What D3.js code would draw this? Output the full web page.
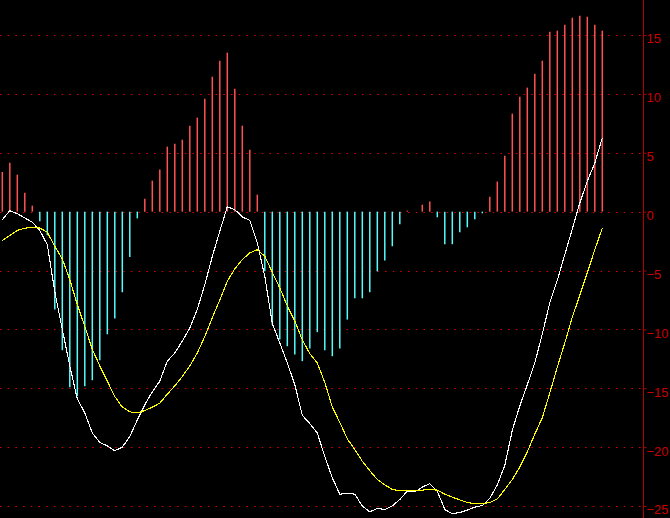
<!DOCTYPE html>
<html><head><meta charset="utf-8">
<script src="https://cdn.jsdelivr.net/npm/d3@7"></script>
<style>html,body{margin:0;padding:0;background:#000;overflow:hidden}</style>
</head><body>
<svg id="c" width="670" height="518"></svg>
<script>
// MACD histogram (2*(DIF-DEA)) per period
const histValues = [3.37, 4.16, 3.14, 1.61, 0.51, -0.82, -2.0, -8.32, -11.77, -14.92,
  -15.68, -14.83, -14.32, -12.62, -10.42, -9.08, -6.85, -3.85, -0.57, 1.1,
  2.63, 3.57, 5.52, 5.77, 6.11, 7.30, 7.98, 9.59, 11.46, 12.82,
  13.5, 10.44, 7.30, 5.26, 1.44, -5.07, -9.59, -10.87, -11.43, -12.14,
  -12.7, -11.63, -10.24, -11.77, -12.28, -11.63, -9.17, -7.36, -7.36, -6.85,
  -5.07, -4.16, -2.94, -1.08, 0.08, 0, 0.59, 0.85, -0.48, -2.77,
  -2.77, -1.75, -1.33, -0.65, -0.14, 1.27, 2.55, 4.75, 8.32, 9.76,
  10.53, 11.71, 12.82, 15.28, 15.37, 15.87, 16.47, 16.64, 16.55, 15.87, 15.37];
// DIF (white line)
const difValues = [-0.68, 0.08, -0.17, -0.54, -0.9, -1.6, -2.8, -6.8, -10.0, -13.1,
  -15.9, -17.1, -18.8, -19.6, -19.9, -20.3, -20.0, -19.1, -17.7, -16.4,
  -15.3, -14.4, -12.7, -12.0, -11.0, -9.9, -8.3, -6.2, -3.8, -1.67,
  0.42, 0.17, -0.45, -0.74, -2.66, -5.5, -9.5, -11.15, -12.85, -14.7,
  -17.3, -18.0, -18.8, -20.8, -22.6, -24.0, -23.9, -24.0, -25.0, -25.5,
  -25.2, -25.3, -25.0, -24.45, -23.74, -23.8, -23.4, -23.1, -23.74, -25.3,
  -25.66, -25.55, -25.35, -25.1, -24.96, -24.36, -23.2, -21.56, -18.56, -16.5,
  -14.7, -12.85, -10.4, -7.73, -5.83, -3.65, -1.47, 0.74, 2.57, 4.13, 6.26];
// DEA (yellow line)
const deaValues = [-2.46, -2.04, -1.59, -1.41, -1.33, -1.39, -1.75, -2.94, -4.02, -5.77,
  -7.9, -9.74, -11.7, -13.1, -14.4, -15.7, -16.6, -17.0, -17.1, -16.9,
  -16.6, -16.27, -15.5, -14.8, -14.0, -13.1, -12.0, -10.6, -9.0, -7.5,
  -5.9, -4.87, -4.07, -3.5, -3.23, -3.79, -5.15, -6.48, -8.0, -9.3,
  -10.9, -12.05, -12.85, -14.5, -16.6, -17.9, -19.3, -20.2, -21.2, -22.0,
  -22.75, -23.2, -23.6, -23.7, -23.7, -23.7, -23.65, -23.6, -23.65, -24.0,
  -24.25, -24.48, -24.7, -24.8, -24.8, -24.7, -24.4, -23.6, -22.75, -21.7,
  -20.4, -18.9, -17.5, -15.4, -13.2, -11.15, -8.97, -7.1, -5.2, -3.23, -1.4];
const yTicks = [15, 10, 5, 0, -5, -10, -15, -20, -25];
const periods = histValues.map((d, i) => i);

const W = 670, H = 518;
const svg = d3.select('#c');
svg.append('rect').attr('width', W).attr('height', H).attr('fill', '#000');

const x = d3.scaleLinear().domain([0, periods.length - 1]).range([2.3, 602.3]);
const y = d3.scaleLinear().domain([-25, 15]).range([506, 35]);
const axisX = 643.5;

// grid
svg.append('g').selectAll('line').data(yTicks).join('line')
  .attr('x1', 0).attr('x2', axisX)
  .attr('y1', d => Math.round(y(d)) + 0.5).attr('y2', d => Math.round(y(d)) + 0.5)
  .attr('stroke', '#e00000').attr('stroke-width', 1)
  .attr('stroke-dasharray', '1.5,6.2');

// histogram bars
svg.append('g').selectAll('line').data(periods).join('line')
  .attr('x1', i => x(i)).attr('x2', i => x(i))
  .attr('y1', y(0)).attr('y2', i => y(histValues[i]))
  .attr('stroke', i => histValues[i] >= 0 ? '#ff5252' : '#54fcfc')
  .attr('stroke-width', 1.5);

// lines
const line = vals => d3.line().x(i => x(i)).y(i => y(vals[i]))(periods);
svg.append('path').attr('d', line(difValues)).attr('fill', 'none')
  .attr('stroke', '#ffffff').attr('stroke-width', 1.1).attr('shape-rendering', 'crispEdges');
svg.append('path').attr('d', line(deaValues)).attr('fill', 'none')
  .attr('stroke', '#ffff00').attr('stroke-width', 1.1).attr('shape-rendering', 'crispEdges');

// right axis
svg.append('line').attr('x1', axisX).attr('x2', axisX).attr('y1', 0).attr('y2', H)
  .attr('stroke', '#b00000').attr('stroke-width', 1);
const ax = svg.append('g').attr('transform', `translate(${axisX},0)`)
  .call(d3.axisRight(y).tickValues(yTicks).tickSizeInner(3).tickSizeOuter(0).tickPadding(0));
ax.select('.domain').remove();
ax.selectAll('.tick line').attr('stroke', '#b00000');
ax.selectAll('.tick text').attr('fill', '#c80000')
  .attr('font-family', '"Liberation Sans", Arial, sans-serif')
  .attr('font-size', 13).attr('y', 3.8).attr('x', 3);
</script>
</body></html>
